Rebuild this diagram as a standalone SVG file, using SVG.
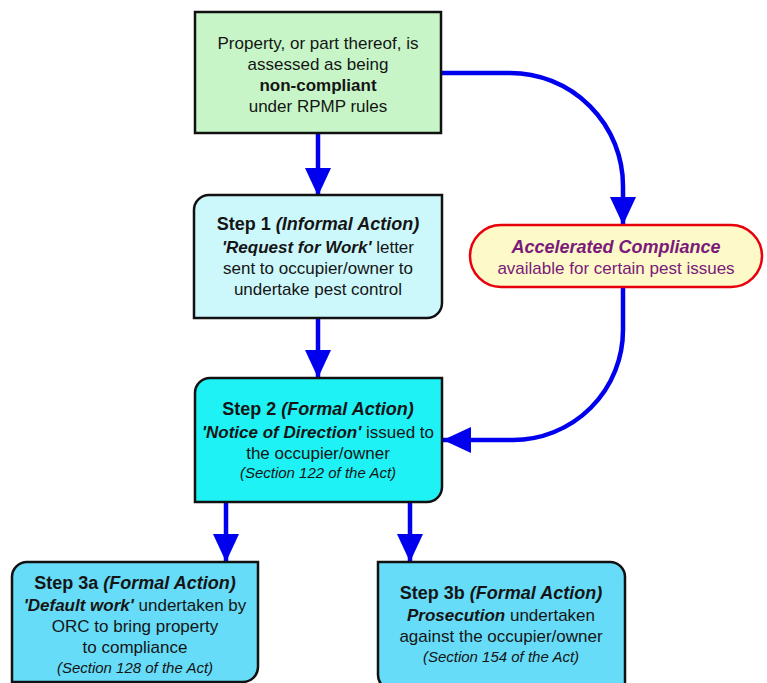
<svg xmlns="http://www.w3.org/2000/svg" width="767" height="683" viewBox="0 0 767 683">
<defs>
<marker id="ah" markerUnits="userSpaceOnUse" markerWidth="28" markerHeight="26" refX="28" refY="13" orient="auto">
<path d="M0,0 L28,13 L0,26 Z" fill="#0000ee"/>
</marker>
<style>
.box{stroke:#111;stroke-width:2.5}
.t{font-family:"Liberation Sans",Arial,sans-serif;font-size:17px;fill:#151515;text-anchor:middle}
.h{font-size:18px;font-weight:bold}
.s{font-size:15px;font-style:italic}
.b{font-weight:bold}
.bi{font-weight:bold;font-style:italic}
.con{fill:none;stroke:#0000ee;stroke-width:4.5;marker-end:url(#ah)}
</style>
</defs>
<rect width="767" height="683" fill="#fff"/>
<g id="connectors">
<path class="con" d="M318,133 V196"/>
<path class="con" d="M318,318 V378"/>
<path class="con" d="M441,73 H510 A113,113 0 0 1 623,186 V225"/>
<path class="con" d="M623,288 V330 A110,110 0 0 1 513,440 H443"/>
<path class="con" d="M226,502 V562"/>
<path class="con" d="M410,502 V562"/>
</g>
<g id="start">
<rect class="box" x="195" y="12" width="246" height="121" fill="#c7f5c7"/>
<text class="t" x="318" y="49">Property, or part thereof, is</text>
<text class="t" x="318" y="70">assessed as being</text>
<text class="t b" x="318" y="91">non-compliant</text>
<text class="t" x="318" y="112">under RPMP rules</text>
</g>
<g id="step1">
<path class="box" d="M209,195 H442 V303 A15,15 0 0 1 427,318 H194 V210 A15,15 0 0 1 209,195 Z" fill="#ccf8fc"/>
<text class="t h" x="318" y="230">Step 1 <tspan font-style="italic">(Informal Action)</tspan></text>
<text class="t" x="318" y="253"><tspan class="bi">'Request for Work'</tspan> letter</text>
<text class="t" x="318" y="274">sent to occupier/owner to</text>
<text class="t" x="318" y="295">undertake pest control</text>
</g>
<g id="accelerated">
<rect x="470" y="225" width="292" height="62" rx="31" ry="31" fill="#fef9c8" stroke="#e8000b" stroke-width="2.5"/>
<text class="t h" x="616" y="253" style="fill:#7a1a7a;font-style:italic">Accelerated Compliance</text>
<text class="t" x="616" y="274" style="fill:#7a1a7a">available for certain pest issues</text>
</g>
<g id="step2">
<path class="box" d="M210,378 H442 V487 A15,15 0 0 1 427,502 H195 V393 A15,15 0 0 1 210,378 Z" fill="#1ef2f5"/>
<text class="t h" x="318" y="415">Step 2 <tspan font-style="italic">(Formal Action)</tspan></text>
<text class="t" x="318" y="438"><tspan class="bi">'Notice of Direction'</tspan> issued to</text>
<text class="t" x="318" y="459">the occupier/owner</text>
<text class="t s" x="318" y="478">(Section 122 of the Act)</text>
</g>
<g id="step3a">
<path class="box" d="M27,562 H258 V667 A15,15 0 0 1 243,682 H12 V577 A15,15 0 0 1 27,562 Z" fill="#66dcf8"/>
<text class="t h" x="135" y="589">Step 3a <tspan font-style="italic">(Formal Action)</tspan></text>
<text class="t" x="135" y="611"><tspan class="bi">'Default work'</tspan> undertaken by</text>
<text class="t" x="135" y="632">ORC to bring property</text>
<text class="t" x="135" y="653">to compliance</text>
<text class="t s" x="135" y="673">(Section 128 of the Act)</text>
</g>
<g id="step3b">
<path class="box" d="M378,562 H610 A15,15 0 0 1 625,577 V690 H393 A15,15 0 0 1 378,675 Z" fill="#66dcf8"/>
<text class="t h" x="501" y="599">Step 3b <tspan font-style="italic">(Formal Action)</tspan></text>
<text class="t" x="501" y="621"><tspan class="bi">Prosecution</tspan> undertaken</text>
<text class="t" x="501" y="642">against the occupier/owner</text>
<text class="t s" x="501" y="662">(Section 154 of the Act)</text>
</g>
</svg>
